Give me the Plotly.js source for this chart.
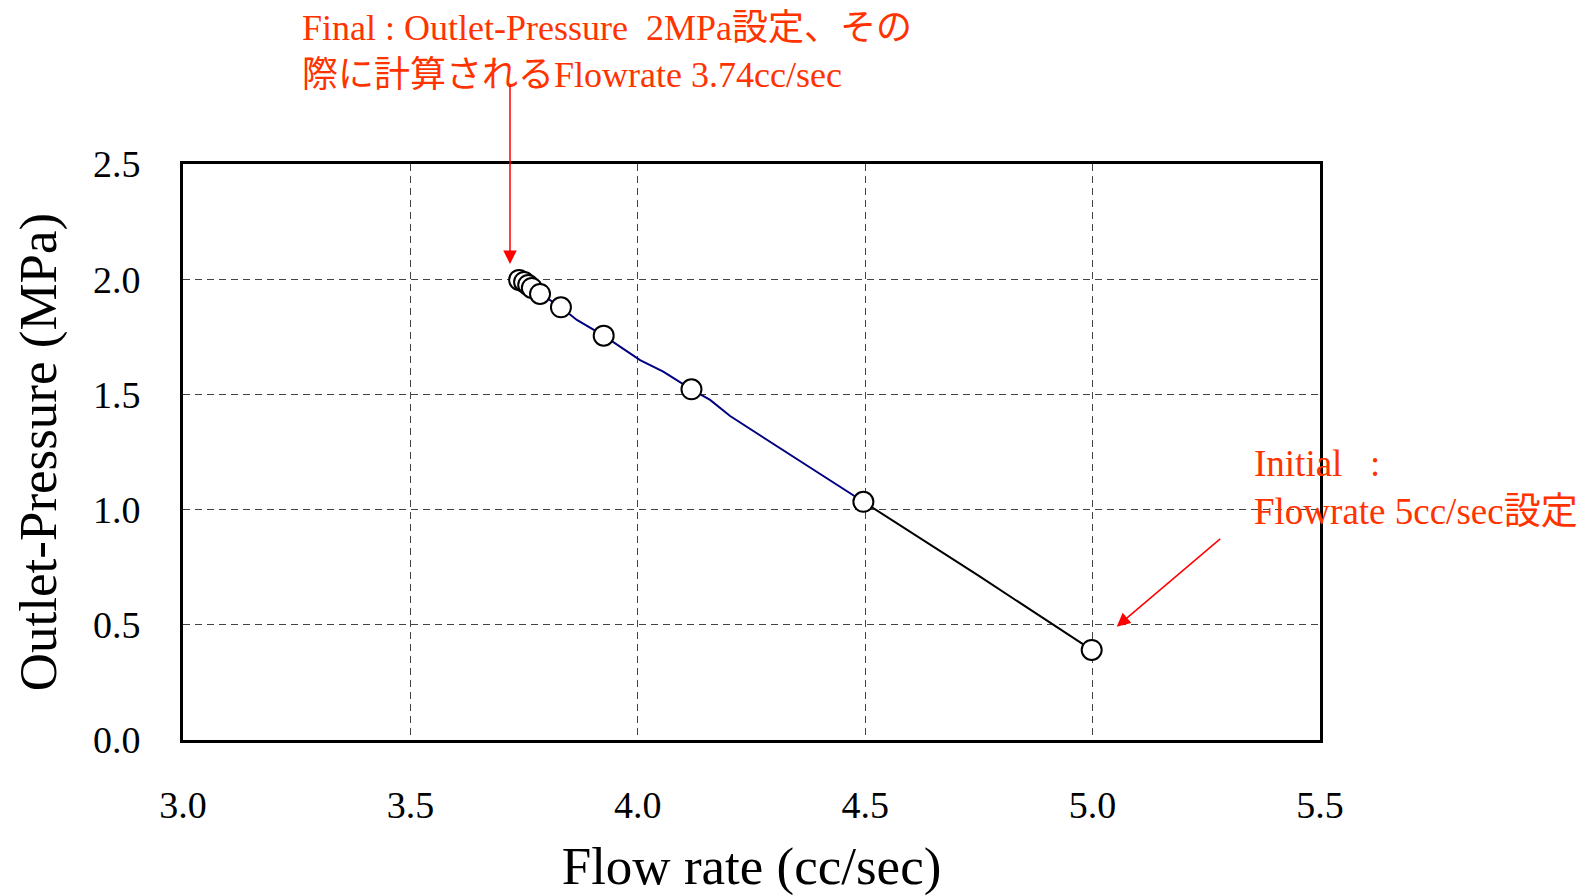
<!DOCTYPE html>
<html>
<head>
<meta charset="utf-8">
<script src="https://cdn.plot.ly/plotly-3.0.1.min.js"></script>
<style>html,body{margin:0;padding:0;background:#fff;}#chart{width:1590px;height:896px;}</style>
</head>
<body>
<div id="chart"></div>
<script>
// Simulated trajectory (flow rate vs outlet pressure)
const pathBlueX = [4.496, 4.203, 4.159, 4.118, 4.056, 4.005, 3.925, 3.866, 3.831, 3.785, 3.767, 3.759, 3.750, 3.739];
const pathBlueY = [1.034, 1.406, 1.476, 1.522, 1.599, 1.649, 1.755, 1.823, 1.878, 1.936, 1.962, 1.975, 1.988, 1.997];
const pathBlackX = [4.998, 4.75, 4.496];
const pathBlackY = [0.391, 0.712, 1.034];
// Iteration points
const pointX = [3.739, 3.750, 3.759, 3.767, 3.785, 3.831, 3.925, 4.118, 4.496, 4.998];
const pointY = [1.997, 1.988, 1.975, 1.962, 1.936, 1.878, 1.755, 1.522, 1.034, 0.391];
// Axis ticks
const xTicks = [3.0, 3.5, 4.0, 4.5, 5.0, 5.5];
const xTickLabels = ["3.0", "3.5", "4.0", "4.5", "5.0", "5.5"];
const yTicks = [0.0, 0.5, 1.0, 1.5, 2.0, 2.5];
const yTickLabels = ["0.0", "0.5", "1.0", "1.5", "2.0", "2.5"];

const serif = "Liberation Serif, 'Times New Roman', serif";
const mixed = "'Liberation Serif', 'Noto Sans CJK JP', serif";
const NB = "\u00a0";

const traces = [
  {x: pathBlueX, y: pathBlueY, type: 'scatter', mode: 'lines',
   line: {color: '#000080', width: 2}, hoverinfo: 'skip'},
  {x: pathBlackX, y: pathBlackY, type: 'scatter', mode: 'lines',
   line: {color: '#000000', width: 2}, hoverinfo: 'skip'},
  {x: pointX, y: pointY, type: 'scatter', mode: 'markers',
   marker: {symbol: 'circle', size: 20, color: '#ffffff', line: {color: '#000000', width: 2}}}
];

const axisCommon = {
  showline: true, mirror: true, linecolor: '#000', linewidth: 3,
  showgrid: true, gridcolor: '#444', griddash: '7px,5px', gridwidth: 1.2,
  zeroline: false, ticks: '', tickfont: {family: serif, size: 38, color: '#000'}
};

const layout = {
  width: 1590, height: 896,
  paper_bgcolor: '#fff', plot_bgcolor: '#fff',
  margin: {l: 183, r: 270, t: 164, b: 156, pad: 0},
  showlegend: false,
  xaxis: Object.assign({}, axisCommon, {
    range: [3.0, 5.5], tickvals: xTicks, ticktext: xTickLabels,
    ticklabelstandoff: 29,
    title: {text: 'Flow rate (cc/sec)', font: {family: serif, size: 53, color: '#000'}, standoff: 28}
  }),
  yaxis: Object.assign({}, axisCommon, {
    range: [0.0, 2.5], tickvals: yTicks, ticktext: yTickLabels,
    ticklabelstandoff: 32,
    title: {text: 'Outlet-Pressure (MPa)', font: {family: serif, size: 53, color: '#000'}, standoff: 20}
  }),
  annotations: [
    {xref: 'paper', yref: 'paper', x: 0.1029, y: 1.196, xanchor: 'left', yanchor: 'middle', align: 'left',
     showarrow: false, font: {family: mixed, size: 36, color: '#FF3300'},
     text: 'Final : Outlet-Pressure' + NB + NB + '2MPa設定、その<br>際に計算されるFlowrate 3.74cc/sec'},
    {xref: 'paper', yref: 'paper', x: 0.940, y: 0.4384, xanchor: 'left', yanchor: 'middle', align: 'left',
     showarrow: false, font: {family: mixed, size: 37, color: '#FF3300'},
     text: 'Initial' + NB + NB + NB + ':<br>Flowrate 5cc/sec設定'},
    {xref: 'x', yref: 'y', x: 3.719, y: 2.066, ax: 0, ay: -180, text: '', showarrow: true,
     arrowcolor: '#FF0000', arrowwidth: 1.5, arrowhead: 2, arrowsize: 1.8},
    {xref: 'x', yref: 'y', x: 5.053, y: 0.492, ax: 105, ay: -89, text: '', showarrow: true,
     arrowcolor: '#FF0000', arrowwidth: 1.5, arrowhead: 2, arrowsize: 1.8}
  ]
};

Plotly.newPlot('chart', traces, layout, {displayModeBar: false, staticPlot: true});
</script>
</body>
</html>
